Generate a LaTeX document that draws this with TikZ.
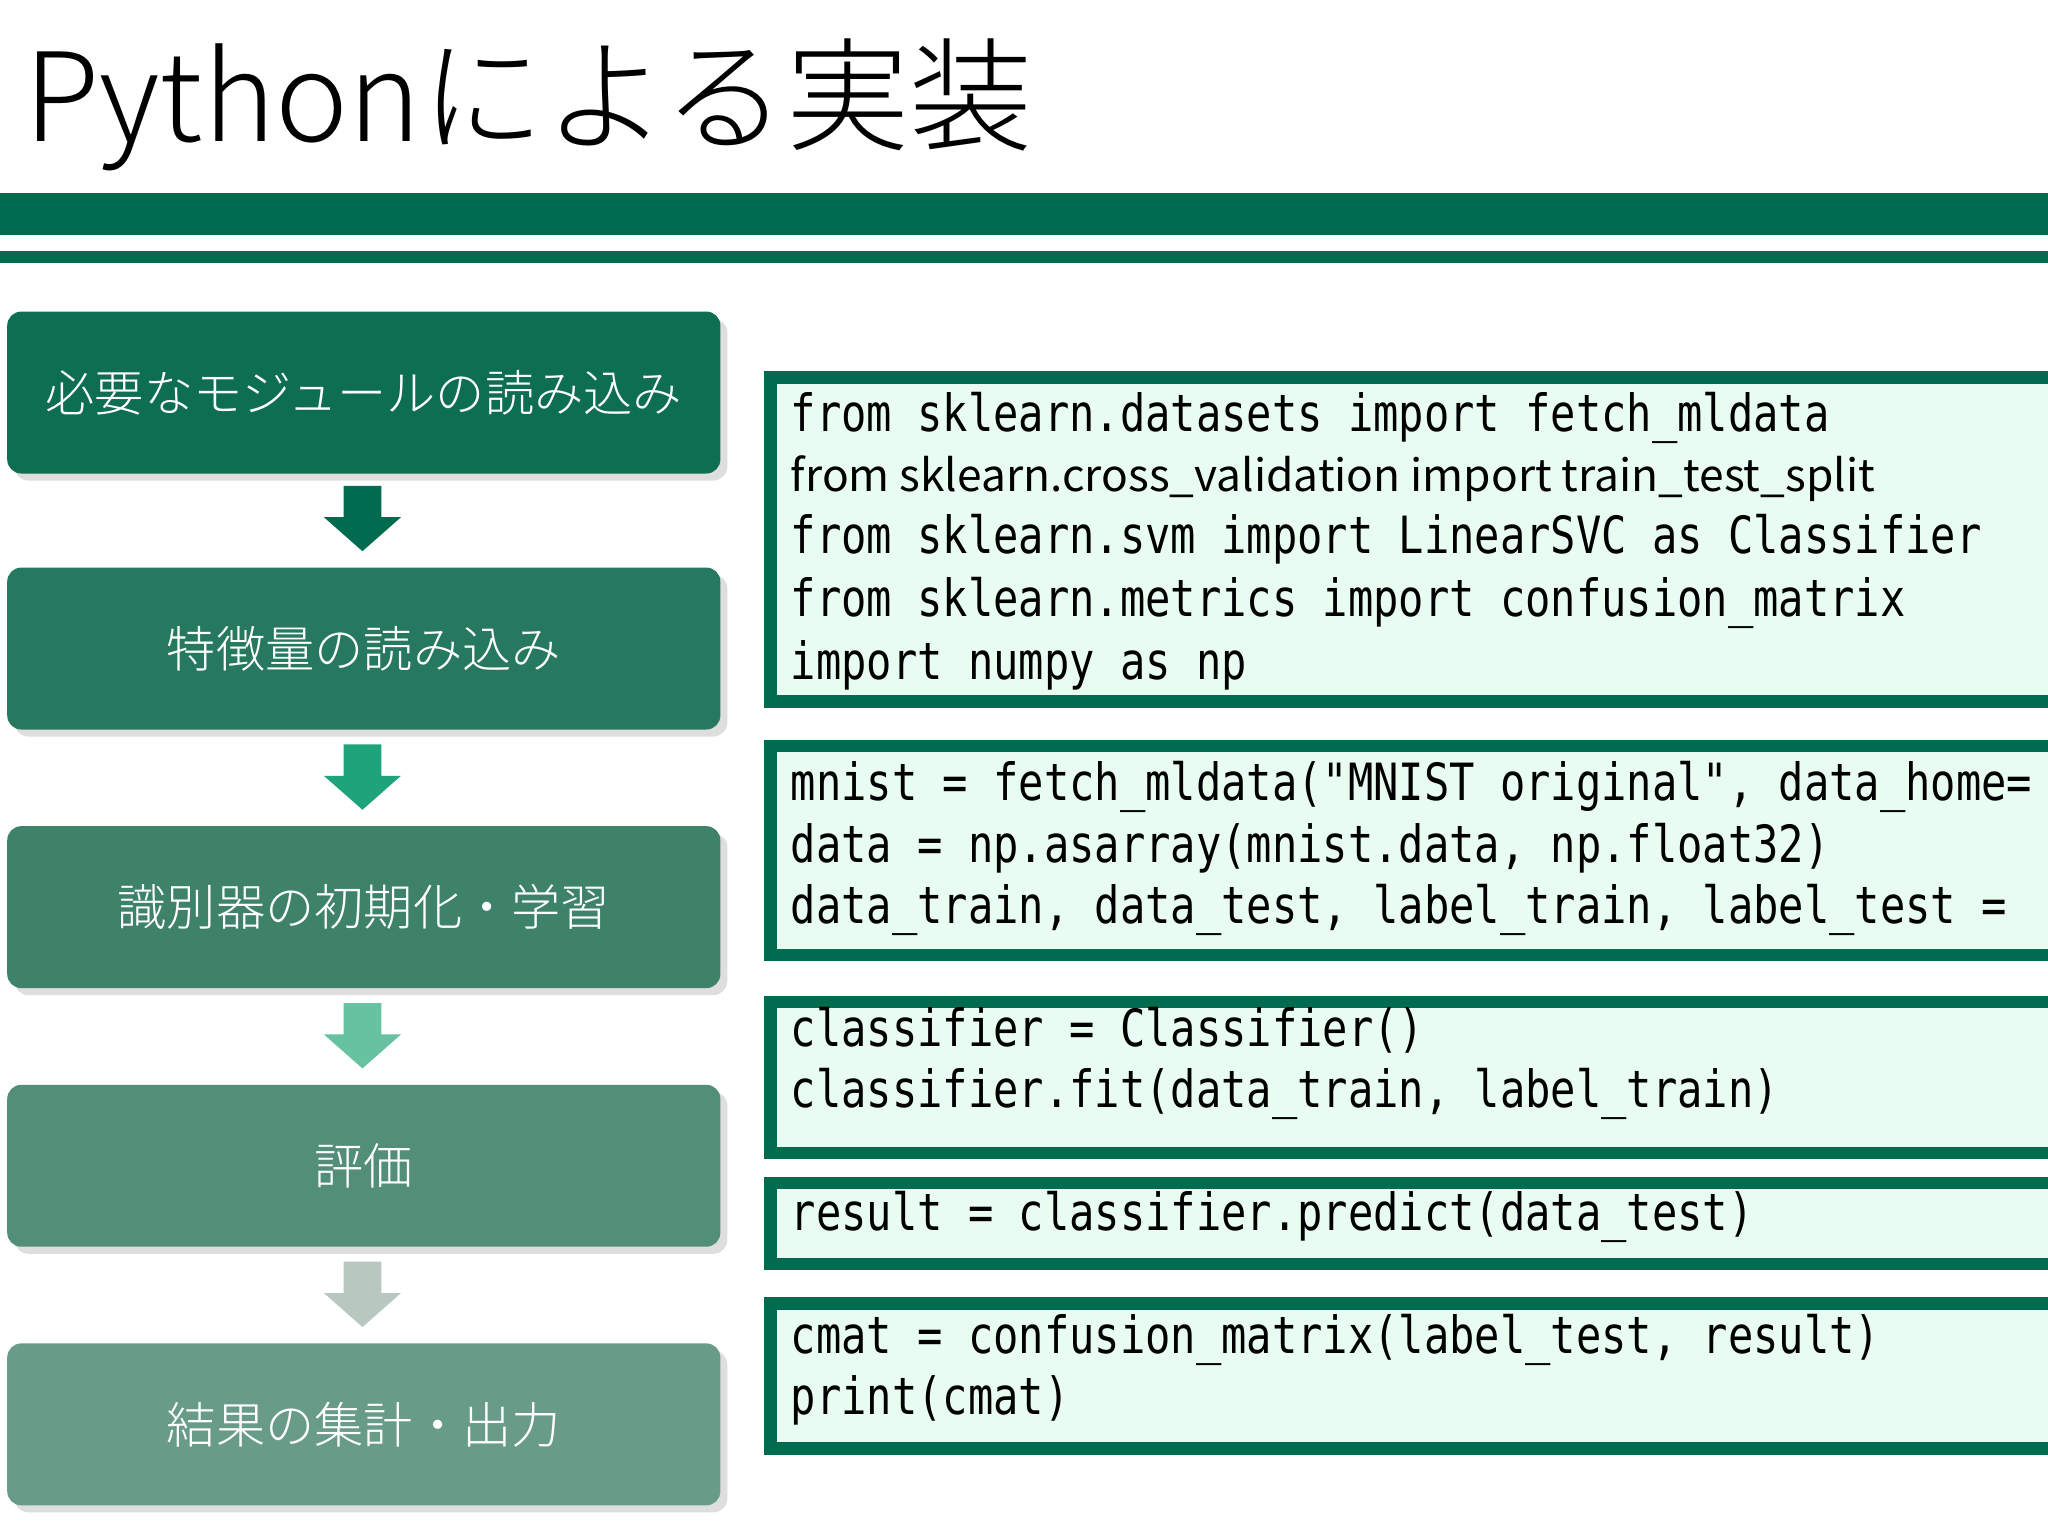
\documentclass[tikz,border=0pt]{standalone}
\usepackage{fontspec}
\setmainfont{Noto Sans CJK JP}
\newfontfamily\jp{Noto Sans CJK JP}
\newfontfamily\jpl{Noto Sans CJK JP Light}
\newfontfamily\cmono[FakeStretch=0.82]{DejaVu Sans Mono}
\usetikzlibrary{shadows}
\definecolor{dg}{HTML}{006B4F}
\definecolor{mint}{HTML}{E8FCF2}
\definecolor{aA}{RGB}{0,107,79}
\definecolor{aB}{RGB}{31,163,122}
\definecolor{aC}{RGB}{102,194,160}
\definecolor{aD}{RGB}{184,200,192}
\definecolor{b1}{RGB}{14,110,82}
\definecolor{b2}{RGB}{38,120,94}
\definecolor{b3}{RGB}{62,130,106}
\definecolor{b4}{RGB}{82,142,120}
\definecolor{b5}{RGB}{104,156,136}
\def\u{0.013061cm}
\tikzset{
 stepbox/.style={draw=none,rounded corners=4pt,minimum width=546*\u,minimum height=124*\u,text=white,font=\jpl\fontsize{14}{17}\selectfont,anchor=north west,drop shadow={shadow xshift=2pt,shadow yshift=-2pt,fill=black!25}},
 codebox/.style={draw=dg,line width=3.5pt,fill=mint},
 codeline/.style={anchor=base west,inner sep=0pt,font=\cmono\fontsize{14.6}{17}\selectfont},
 propline/.style={anchor=base west,inner sep=0pt,font=\jp\fontsize{12.6}{15}\selectfont}
}
\begin{document}
\begin{tikzpicture}[x=0.013061cm,y=-0.013061cm]
\useasboundingbox (0,0) rectangle (1568,1176);
\fill[white!97!mint] (0,210) rectangle (1568,1176);
\clip (0,0) rectangle (1568,1176);
\node[anchor=base west,inner sep=0pt,font=\jpl\fontsize{35}{42}\selectfont] (title) at (18,108) {Pythonによる実装};
\fill[dg] (0,148) rectangle (1568,180);
\fill[dg] (0,192) rectangle (1568,201);
\node[stepbox,fill=b1] (s1) at (5,238) {必要なモジュールの読み込み};
\node[stepbox,fill=b2] (s2) at (5,434) {特徴量の読み込み};
\node[stepbox,fill=b3] (s3) at (5,632) {識別器の初期化・学習};
\node[stepbox,fill=b4] (s4) at (5,830) {評価};
\node[stepbox,fill=b5] (s5) at (5,1028) {結果の集計・出力};
\foreach \y/\c in {372/aA,570/aB,768/aC,966/aD}{
 \fill[\c] (263,\y) -- (292,\y) -- (292,\y+24) -- (307,\y+24) -- (277.5,\y+50) -- (248,\y+24) -- (263,\y+24) -- cycle;
}
\draw[codebox] (590,289) rectangle (1600,537);
\draw[codebox] (590,571) rectangle (1600,731);
\draw[codebox] (590,767) rectangle (1600,883);
\draw[codebox] (590,906) rectangle (1600,968);
\draw[codebox] (590,998) rectangle (1600,1109);
\node[codeline] (c1) at (605,330) {from sklearn.datasets import fetch\_mldata};
\node[propline] (c2) at (605,376) {from sklearn.cross\_validation import train\_test\_split};
\node[codeline] (c3) at (605,424) {from sklearn.svm import LinearSVC as Classifier};
\node[codeline] (c4) at (605,472) {from sklearn.metrics import confusion\_matrix};
\node[codeline] (c5) at (605,520) {import numpy as np};
\node[codeline] (d1) at (605,613) {mnist = fetch\_mldata("MNIST original", data\_home=};
\node[codeline] (d2) at (605,660) {data = np.asarray(mnist.data, np.float32)};
\node[codeline] (d3) at (605,707) {data\_train, data\_test, label\_train, label\_test =};
\node[codeline] (e1) at (605,801) {classifier = Classifier()};
\node[codeline] (e2) at (605,848) {classifier.fit(data\_train, label\_train)};
\node[codeline] (f1) at (605,942) {result = classifier.predict(data\_test)};
\node[codeline] (g1) at (605,1036) {cmat = confusion\_matrix(label\_test, result)};
\node[codeline] (g2) at (605,1083) {print(cmat)};
\end{tikzpicture}
\end{document}
